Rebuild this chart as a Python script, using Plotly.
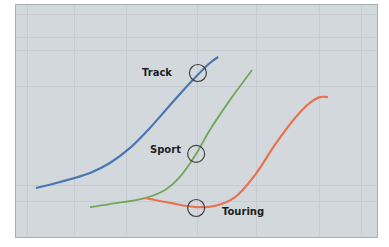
import plotly.graph_objects as go

# Data (arbitrary units, 0-100 scale)
track_x = [5.5, 12.2, 20.5, 26.0, 31.6, 37.1, 42.7, 48.2, 53.7, 56.0]
track_y = [21.1, 23.7, 27.6, 31.9, 38.4, 47.0, 56.9, 66.4, 75.0, 77.6]

sport_x = [20.5, 26.0, 35.7, 41.3, 45.4, 49.9, 53.7, 59.3, 65.4]
sport_y = [12.9, 14.2, 16.8, 20.3, 25.9, 35.8, 46.1, 59.1, 72.0]

touring_x = [35.7, 42.7, 49.9, 55.1, 60.7, 66.2, 71.7, 77.3, 81.4, 84.2, 86.4]
touring_y = [16.8, 14.7, 12.9, 13.4, 17.2, 26.7, 39.7, 51.3, 57.8, 60.3, 60.3]

marker_x = [50.4, 49.9, 49.9]
marker_y = [70.7, 35.8, 12.5]

labels = ["Track", "Sport", "Touring"]
label_x = [43.8, 46.3, 56.5]
label_y = [71.0, 37.9, 11.2]
label_anchor = ["right", "right", "left"]

grid_x = [3.3, 16.3, 30.5, 50.4, 66.5, 84.2, 95.7]
grid_y = [15.1, 22.0, 64.7, 80.2, 86.2, 95.7]

fig = go.Figure()
fig.add_trace(go.Scatter(x=track_x, y=track_y, mode="lines",
                         line=dict(color="#4a77b4", width=2.2, shape="spline"), name="Track"))
fig.add_trace(go.Scatter(x=sport_x, y=sport_y, mode="lines",
                         line=dict(color="#6fa85a", width=1.8, shape="spline"), name="Sport"))
fig.add_trace(go.Scatter(x=touring_x, y=touring_y, mode="lines",
                         line=dict(color="#e8734f", width=2.2, shape="spline"), name="Touring"))
fig.add_trace(go.Scatter(x=marker_x, y=marker_y, mode="markers",
                         marker=dict(symbol="circle-open", size=17, color="#3c3f44",
                                     line=dict(width=1.2, color="#3c3f44")),
                         name="markers"))

for t, x, y, a in zip(labels, label_x, label_y, label_anchor):
    fig.add_annotation(x=x, y=y, text="<b>" + t + "</b>", showarrow=False,
                       xanchor=a, yanchor="middle",
                       font=dict(family="DejaVu Sans", size=10, color="#1e1e1e"))

fig.update_layout(
    width=389, height=247,
    margin=dict(l=16, r=12, t=5, b=10),
    paper_bgcolor="white",
    plot_bgcolor="#d3d8dc",
    showlegend=False,
)
fig.update_xaxes(range=[0, 100], tickvals=grid_x, showticklabels=False,
                 showgrid=True, gridcolor="#c6ccd1", gridwidth=1, zeroline=False,
                 showline=True, linecolor="#a9aeb2", mirror=True, ticks="")
fig.update_yaxes(range=[0, 100], tickvals=grid_y, showticklabels=False,
                 showgrid=True, gridcolor="#c6ccd1", gridwidth=1, zeroline=False,
                 showline=True, linecolor="#a9aeb2", mirror=True, ticks="")

fig.write_html("out.html", config={"displayModeBar": False},
               post_script="document.body.style.margin='0';document.body.style.overflow='hidden';")
